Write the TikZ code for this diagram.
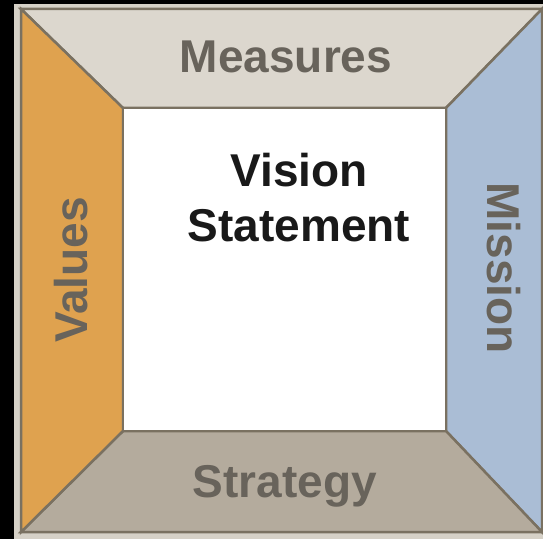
\documentclass[tikz,border=0pt]{standalone}
\usepackage{fontspec}
\setmainfont{Liberation Sans}
\definecolor{valuesorange}{HTML}{DFA24F}
\definecolor{measuresgray}{HTML}{DCD7CE}
\definecolor{missionblue}{HTML}{AABDD5}
\definecolor{strategygray}{HTML}{B4AB9D}
\definecolor{edgegray}{HTML}{7A7161}
\definecolor{rimgray}{HTML}{D6D1C7}
\definecolor{labelgray}{HTML}{68635B}

\begin{document}
\begin{tikzpicture}[x=1bp, y=-1bp,
	band/.style={draw=edgegray, line width=2.5bp, line join=miter},
	bandtext/.style={text=labelgray, font=\bfseries\fontsize{46bp}{55bp}\selectfont, inner sep=0, anchor=base}]
	\useasboundingbox (0,0) rectangle (543,539);
	\fill[black] (0,0) rectangle (543,539);
	\fill[rimgray] (14,4) rectangle (543,539);
	% outer and inner corners
	\coordinate (otl) at (21,9);
	\coordinate (otr) at (542,9);
	\coordinate (obr) at (542,532);
	\coordinate (obl) at (21,532);
	\coordinate (itl) at (123,108);
	\coordinate (itr) at (446,108);
	\coordinate (ibr) at (446,431);
	\coordinate (ibl) at (123,431);
	% the four bands
	\filldraw[band, fill=measuresgray] (otl) -- (otr) -- (itr) -- (itl) -- cycle;
	\filldraw[band, fill=missionblue] (otr) -- (obr) -- (ibr) -- (itr) -- cycle;
	\filldraw[band, fill=strategygray] (obl) -- (obr) -- (ibr) -- (ibl) -- cycle;
	\filldraw[band, fill=valuesorange] (otl) -- (obl) -- (ibl) -- (itl) -- cycle;
	\filldraw[band, fill=white] (itl) rectangle (ibr);
	% labels
	\node[bandtext] (measures) at (286,73) {Measures};
	\node[bandtext] (strategy) at (285,497) {Strategy};
	\node[bandtext, rotate=90] (values) at (87,270) {Values};
	\node[bandtext, rotate=-90] (mission) at (487,268) {Mission};
	\node[text=black!90, font=\bfseries\fontsize{46bp}{55bp}\selectfont, inner sep=0, anchor=north, align=center] (vision) at (299,153) {Vision\\Statement};
\end{tikzpicture}
\end{document}
